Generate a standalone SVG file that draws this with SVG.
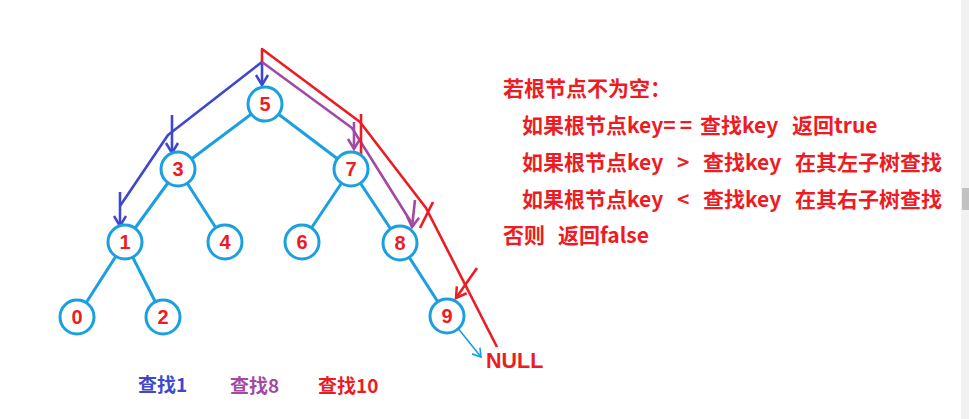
<svg xmlns="http://www.w3.org/2000/svg" width="969" height="419" viewBox="0 0 969 419">
<style>
.edge{stroke:#1a9fe0;stroke-width:3;fill:none}
.node circle{fill:#fff;stroke:#1a9fe0;stroke-width:3}
.node text{font-family:"Liberation Sans",Arial,sans-serif;font-weight:bold;font-size:20px;fill:#ed1c24;text-anchor:middle}
.pb{stroke:#3f48cc;stroke-width:2.6;fill:none;stroke-linejoin:round}
.pp{stroke:#a349a4;stroke-width:2.6;fill:none;stroke-linejoin:round}
.pr{stroke:#ed1c24;stroke-width:2.6;fill:none;stroke-linejoin:round}
.txt{font-family:"Noto Sans CJK SC","Noto Sans",sans-serif;font-weight:bold;font-size:21px;fill:#ed1c24}
.lab{font-family:"Noto Sans CJK SC","Noto Sans",sans-serif;font-weight:bold;font-size:19px}
</style>
<defs>
<marker id="aB" markerUnits="userSpaceOnUse" markerWidth="16" markerHeight="16" refX="13" refY="8" orient="auto"><path d="M3,2 L13,8 L3,14" fill="none" stroke="#3f48cc" stroke-width="2.5"/></marker>
<marker id="aP" markerUnits="userSpaceOnUse" markerWidth="16" markerHeight="16" refX="13" refY="8" orient="auto"><path d="M3,2 L13,8 L3,14" fill="none" stroke="#a349a4" stroke-width="2.5"/></marker>
<marker id="aR" markerUnits="userSpaceOnUse" markerWidth="16" markerHeight="16" refX="13" refY="8" orient="auto"><path d="M3,2 L13,8 L3,14" fill="none" stroke="#ed1c24" stroke-width="2.5"/></marker>
<marker id="aT" markerUnits="userSpaceOnUse" markerWidth="14" markerHeight="14" refX="11" refY="7" orient="auto"><path d="M3,2 L11,7 L3,12" fill="none" stroke="#1a9fe0" stroke-width="1.6"/></marker>
</defs>
<rect width="969" height="419" fill="#fff"/>
<rect x="961" y="0" width="8" height="419" fill="#f1f1f1"/>
<rect x="962" y="188" width="7" height="22" fill="#c1c1c1"/>

<g id="connectors">
  <g id="tree-edges">
    <line class="edge" x1="265" y1="104" x2="178" y2="169"/>
    <line class="edge" x1="265" y1="104" x2="351" y2="169"/>
    <line class="edge" x1="178" y1="169" x2="125" y2="242"/>
    <line class="edge" x1="178" y1="169" x2="225" y2="242"/>
    <line class="edge" x1="351" y1="169" x2="302" y2="242"/>
    <line class="edge" x1="351" y1="169" x2="400" y2="243"/>
    <line class="edge" x1="125" y1="242" x2="77" y2="317"/>
    <line class="edge" x1="125" y1="242" x2="163" y2="317"/>
    <line class="edge" x1="400" y1="243" x2="447" y2="316"/>
  </g>
  <g id="search-1">
    <path class="pb" d="M262,62 L168,135 L120,206"/>
    <path class="pb" d="M262,62 L262,85" marker-end="url(#aB)"/>
    <path class="pb" d="M172,115 L172,153" marker-end="url(#aB)"/>
    <path class="pb" d="M120,192 L120,226" marker-end="url(#aB)"/>
  </g>
  <g id="search-8">
    <path class="pp" d="M262,62 L352,128 L411,222"/>
    <path class="pp" d="M354,122 L354,149" marker-end="url(#aP)"/>
    <path class="pp" d="M415,200 L412,227" marker-end="url(#aP)"/>
  </g>
  <g id="search-10">
    <path class="pr" d="M262,62 L262,49 L360,122 L426,208 L497,347"/>
    <path class="pr" d="M361,114 L361,157"/>
    <path class="pr" d="M433,202 L420,228"/>
    <path class="pr" d="M477,268 L456,298" marker-end="url(#aR)"/>
  </g>
  <path id="to-null" d="M457,327 L481,357" stroke="#1a9fe0" stroke-width="1.6" fill="none" marker-end="url(#aT)"/>
</g>

<g id="n5" class="node"><circle cx="265" cy="104" r="17"/><text x="265" y="111">5</text></g>
<g id="n3" class="node"><circle cx="178" cy="169" r="17"/><text x="178" y="176">3</text></g>
<g id="n7" class="node"><circle cx="351" cy="169" r="17"/><text x="351" y="176">7</text></g>
<g id="n1" class="node"><circle cx="125" cy="242" r="17"/><text x="125" y="249">1</text></g>
<g id="n4" class="node"><circle cx="225" cy="242" r="17"/><text x="225" y="249">4</text></g>
<g id="n6" class="node"><circle cx="302" cy="242" r="17"/><text x="302" y="249">6</text></g>
<g id="n8" class="node"><circle cx="400" cy="243" r="17"/><text x="400" y="250">8</text></g>
<g id="n0" class="node"><circle cx="77" cy="317" r="17"/><text x="77" y="324">0</text></g>
<g id="n2" class="node"><circle cx="163" cy="317" r="17"/><text x="163" y="324">2</text></g>
<g id="n9" class="node"><circle cx="447" cy="316" r="17"/><text x="447" y="323">9</text></g>

<g id="null">
  <text x="486" y="368" font-family="Liberation Sans,Arial,sans-serif" font-weight="bold" font-size="21.5" fill="#ed1c24">NULL</text>
</g>

<g id="rules" class="txt">
  <text x="503" y="96">若根节点不为空：</text>
  <text y="133"><tspan x="522">如果根节点key</tspan><tspan letter-spacing="4">==</tspan><tspan x="700">查找key</tspan><tspan x="792">返回true</tspan></text>
  <text y="170"><tspan x="522">如果根节点key</tspan><tspan x="677">&gt;</tspan><tspan x="703">查找key</tspan><tspan x="795">在其左子树查找</tspan></text>
  <text y="207"><tspan x="522">如果根节点key</tspan><tspan x="677">&lt;</tspan><tspan x="703">查找key</tspan><tspan x="795">在其右子树查找</tspan></text>
  <text y="243"><tspan x="503">否则</tspan><tspan x="558">返回false</tspan></text>
</g>

<g id="legend" class="lab">
  <text x="138" y="392" fill="#3f48cc">查找1</text>
  <text x="230" y="393" fill="#a349a4">查找8</text>
  <text x="318" y="393" fill="#ed1c24">查找10</text>
</g>
</svg>
